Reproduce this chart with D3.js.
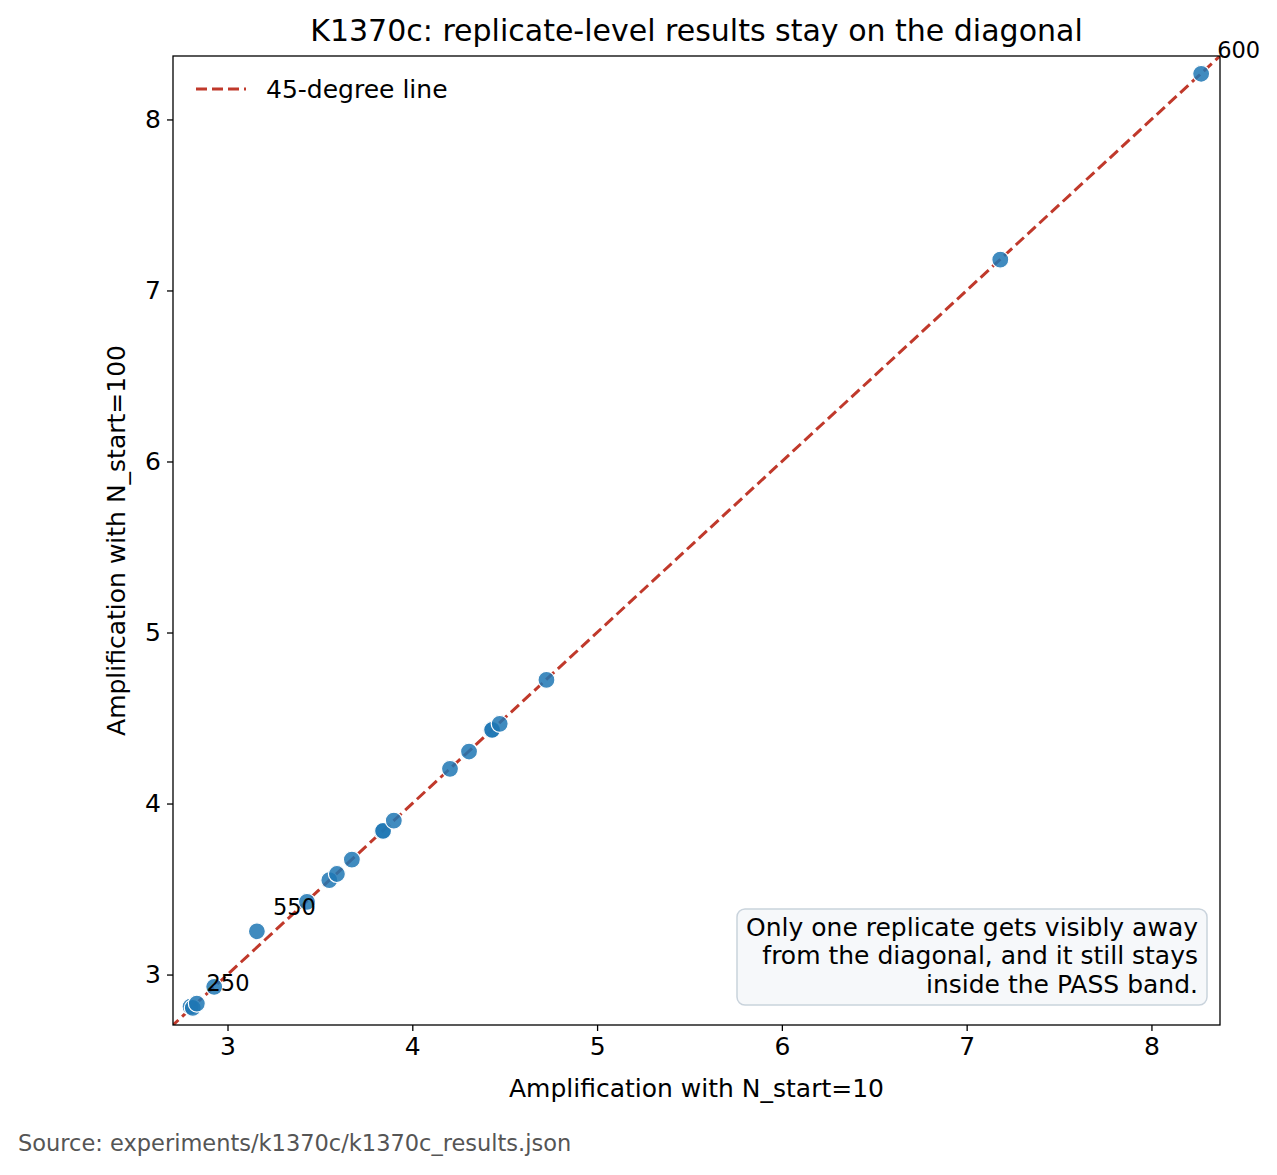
<!DOCTYPE html>
<html>
<head>
<meta charset="utf-8">
<script src="https://cdn.jsdelivr.net/npm/d3@7"></script>
<style>
  body { margin: 0; background: #fff; }
  text { font-family: "DejaVu Sans", sans-serif; }
</style>
</head>
<body>
<div id="chart"></div>
<script>
// replicate-level amplification, N_start=10 vs N_start=100
var ampN10  = [2.800, 2.812, 2.834, 2.928, 3.159, 3.430, 3.551, 3.592, 3.673, 3.838, 3.842, 3.900, 4.204, 4.307, 4.428, 4.432, 4.473, 4.726, 7.182, 8.269];
var ampN100 = [2.812, 2.805, 2.830, 2.928, 3.253, 3.425, 3.552, 3.588, 3.672, 3.837, 3.840, 3.900, 4.203, 4.304, 4.428, 4.431, 4.466, 4.723, 7.180, 8.267];
var pointLabels = [{i: 0, text: "250"}, {i: 4, text: "550"}, {i: 19, text: "600"}];
var xTicks = [3, 4, 5, 6, 7, 8];
var yTicks = [3, 4, 5, 6, 7, 8];
var axisLimits = [2.705, 8.371];
var noteLines = ["Only one replicate gets visibly away", "from the diagonal, and it still stays", "inside the PASS band."];

var width = 1277, height = 1175;
var margin = {top: 56, left: 173, right: 57, bottom: 150};
var plotW = width - margin.left - margin.right;
var plotH = height - margin.top - margin.bottom;

var svg = d3.select("#chart").append("svg")
    .attr("width", width)
    .attr("height", height);

var x = d3.scaleLinear().domain(axisLimits).range([0, plotW]);
var y = d3.scaleLinear().domain(axisLimits).range([plotH, 0]);

var g = svg.append("g")
    .attr("transform", "translate(" + margin.left + "," + margin.top + ")");

svg.append("defs").append("clipPath")
    .attr("id", "plot-clip")
  .append("rect")
    .attr("width", plotW)
    .attr("height", plotH);

// diagonal
g.append("line")
    .attr("clip-path", "url(#plot-clip)")
    .attr("x1", x(2.5)).attr("y1", y(2.5))
    .attr("x2", x(8.6)).attr("y2", y(8.6))
    .attr("stroke", "#c0392b")
    .attr("stroke-width", 3)
    .attr("stroke-dasharray", "11,5");

// points
g.selectAll("circle.pt")
    .data(ampN10)
  .enter().append("circle")
    .attr("class", "pt")
    .attr("cx", function (d) { return x(d); })
    .attr("cy", function (d, i) { return y(ampN100[i]); })
    .attr("r", 8.5)
    .attr("fill", "#1f77b4")
    .attr("fill-opacity", 0.85)
    .attr("stroke", "#fff")
    .attr("stroke-width", 1.2);

// point labels
g.selectAll("text.plabel")
    .data(pointLabels)
  .enter().append("text")
    .attr("class", "plabel")
    .attr("x", function (d) { return x(ampN10[d.i]) + 16; })
    .attr("y", function (d) { return y(ampN100[d.i]) - 16; })
    .attr("font-size", 22.5)
    .attr("fill", "#000")
    .text(function (d) { return d.text; });

// axes
var xAxis = d3.axisBottom(x).tickValues(xTicks).tickSize(6).tickPadding(6).tickFormat(d3.format("d"));
var yAxis = d3.axisLeft(y).tickValues(yTicks).tickSize(6).tickPadding(6).tickFormat(d3.format("d"));

var xg = g.append("g")
    .attr("transform", "translate(0," + plotH + ")")
    .call(xAxis);
var yg = g.append("g").call(yAxis);

[xg, yg].forEach(function (a) {
  a.select(".domain").remove();
  a.selectAll("line").attr("stroke", "#000").attr("stroke-width", 1.3);
  a.selectAll("text").attr("font-size", 25).attr("fill", "#000")
    .style("font-family", "DejaVu Sans, sans-serif");
});

g.append("rect")
    .attr("width", plotW)
    .attr("height", plotH)
    .attr("fill", "none")
    .attr("stroke", "#000")
    .attr("stroke-width", 1.3);

// legend
var leg = g.append("g").attr("transform", "translate(23,33)");
leg.append("line")
    .attr("x1", 0).attr("x2", 50)
    .attr("stroke", "#c0392b")
    .attr("stroke-width", 3)
    .attr("stroke-dasharray", "11,5");
leg.append("text")
    .attr("x", 70)
    .attr("dy", "0.35em")
    .attr("font-size", 25)
    .text("45-degree line");

// note box
var note = g.append("g");
note.append("rect")
    .attr("x", 564).attr("y", 853)
    .attr("width", 470).attr("height", 96)
    .attr("rx", 8)
    .attr("fill", "#f6f8fa")
    .attr("stroke", "#c9d3dc")
    .attr("stroke-width", 1.5);
note.selectAll("text")
    .data(noteLines)
  .enter().append("text")
    .attr("x", 1025)
    .attr("y", function (d, i) { return 871 + i * 28.5; })
    .attr("dy", "0.35em")
    .attr("text-anchor", "end")
    .attr("font-size", 25)
    .text(function (d) { return d; });

// titles
svg.append("text")
    .attr("x", margin.left + plotW / 2)
    .attr("y", 41)
    .attr("text-anchor", "middle")
    .attr("font-size", 30)
    .text("K1370c: replicate-level results stay on the diagonal");

svg.append("text")
    .attr("x", margin.left + plotW / 2)
    .attr("y", 1097)
    .attr("text-anchor", "middle")
    .attr("font-size", 25)
    .text("Amplification with N_start=10");

svg.append("text")
    .attr("transform", "translate(125," + (margin.top + plotH / 2) + ") rotate(-90)")
    .attr("text-anchor", "middle")
    .attr("font-size", 25)
    .text("Amplification with N_start=100");

svg.append("text")
    .attr("x", 18)
    .attr("y", 1151)
    .attr("font-size", 22.5)
    .attr("fill", "#555")
    .text("Source: experiments/k1370c/k1370c_results.json");
</script>
</body>
</html>
